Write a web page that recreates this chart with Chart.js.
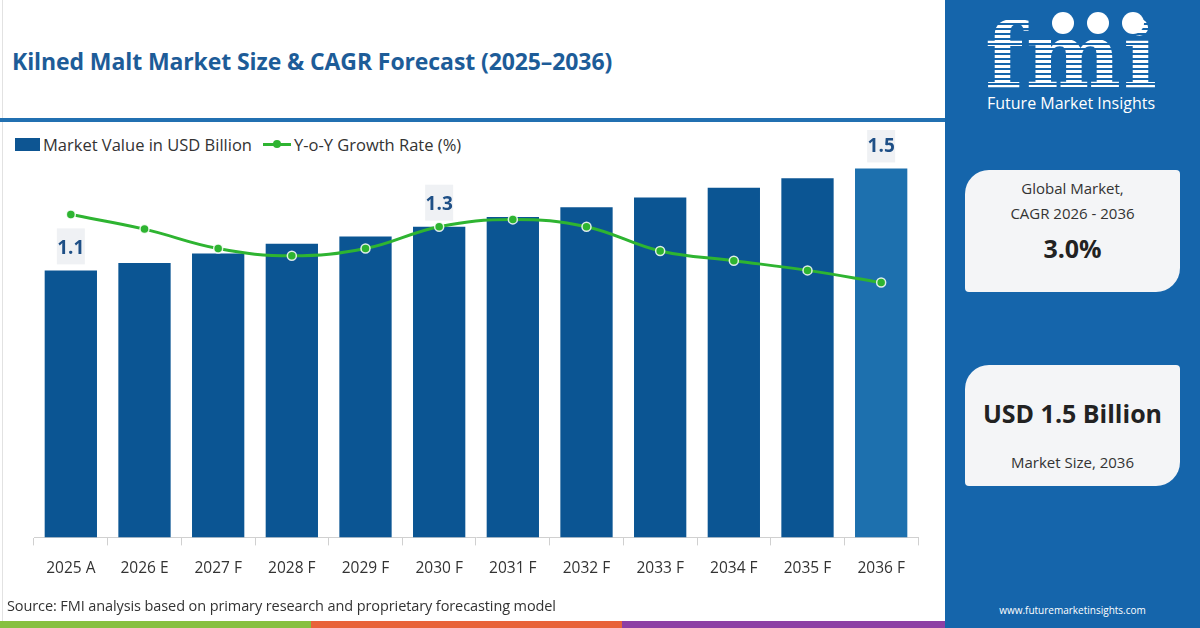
<!DOCTYPE html>
<html>
<head>
<meta charset="utf-8">
<script src="https://cdn.jsdelivr.net/npm/chart.js@4.4.1/dist/chart.umd.min.js"></script>
<style>
  html, body { margin: 0; padding: 0; }
  body { width: 1200px; height: 628px; position: relative; overflow: hidden; background: #fff; font-family: 'Open Sans', sans-serif; }
  .edge { position: absolute; left: 2px; top: 0; width: 1px; height: 621px; background: #e2e2e2; }
  .title { position: absolute; left: 12px; top: 45px; font-size: 23px; font-weight: 700; color: #1d5c98; letter-spacing: -0.1px; }
  .rule { position: absolute; left: 0; top: 118px; width: 946px; height: 4px; background: #2170b1; }
  .legend { position: absolute; left: 15px; top: 134px; font-size: 16.5px; color: #333; display: flex; align-items: center; height: 20px; }
  .legend .box { width: 25px; height: 13px; background: #0d5592; margin-right: 3px; }
  .legend .ln { position: relative; width: 28px; height: 3px; background: #2eb431; margin: 0 3px 0 11px; }
  .legend .ln::after { content: ''; position: absolute; left: 10px; top: -2.5px; width: 8px; height: 8px; border-radius: 50%; background: #2eb431; }
  #wrap { position: absolute; left: 0; top: 130px; width: 945px; height: 474px; }
  .source { position: absolute; left: 7px; top: 596px; font-size: 14.5px; color: #333; letter-spacing: -0.1px; }
  .stripe { position: absolute; top: 621px; height: 7px; }
  .panel { position: absolute; left: 945px; top: 0; width: 255px; height: 628px; background: #1565ab; }
  .logo { position: absolute; left: 40px; top: 5px; font-family: 'DejaVu Serif', serif; font-weight: 700; font-size: 90px; line-height: 100px; letter-spacing: 2px;
          background: repeating-linear-gradient(to bottom, #fff 0 3px, #1565ab 3px 5px); -webkit-background-clip: text; background-clip: text; color: transparent; }
  .dot { position: absolute; width: 22px; height: 22px; border-radius: 50%; background: #fff; }
  .fmi-name { position: absolute; left: 42px; top: 92px; font-size: 16px; color: #fff; }
  .card { position: absolute; left: 20px; width: 215px; background: #f4f5f7; border-radius: 24px 4px 24px 4px; text-align: center; color: #333; }
  .card .sm { font-size: 15px; line-height: 25px; }
  .card .big { font-size: 25px; font-weight: 700; color: #222; }
  .site { position: absolute; left: 0; width: 255px; top: 603px; text-align: center; font-size: 10px; color: #fff; }
</style>
</head>
<body>
<div class="edge"></div>
<div class="title">Kilned Malt Market Size &amp; CAGR Forecast (2025–2036)</div>
<div class="rule"></div>
<div class="legend"><div class="box"></div>Market Value in USD Billion<div class="ln"></div>Y-o-Y Growth Rate (%)</div>
<div id="wrap"><canvas id="chart"></canvas></div>
<div class="source">Source: FMI analysis based on primary research and proprietary forecasting model</div>
<div class="stripe" style="left:0;width:311px;background:#87c040"></div>
<div class="stripe" style="left:311px;width:311px;background:#e8633a"></div>
<div class="stripe" style="left:622px;width:324px;background:#8d3fa4"></div>

<div class="panel">
  <div class="logo">fmi</div>
  <div class="dot" style="left:107px;top:12px"></div>
  <div class="dot" style="left:142px;top:12px"></div>
  <div class="dot" style="left:177px;top:12px"></div>
  <div class="fmi-name">Future Market Insights</div>
  <div class="card" style="top:170px;height:122px">
    <div class="sm" style="padding-top:6px">Global Market,</div>
    <div class="sm">CAGR 2026 - 2036</div>
    <div class="big" style="margin-top:5px">3.0%</div>
  </div>
  <div class="card" style="top:365px;height:121px">
    <div class="big" style="padding-top:31px">USD 1.5 Billion</div>
    <div class="sm" style="margin-top:20px">Market Size, 2036</div>
  </div>
  <div class="site">www.futuremarketinsights.com</div>
</div>

<script>
const years = ['2025 A', '2026 E', '2027 F', '2028 F', '2029 F', '2030 F', '2031 F', '2032 F', '2033 F', '2034 F', '2035 F', '2036 F'];
const marketValue = [1.10, 1.13, 1.17, 1.21, 1.24, 1.28, 1.32, 1.36, 1.40, 1.44, 1.48, 1.52];
const growthRate = [3.33, 3.27, 3.19, 3.16, 3.19, 3.28, 3.31, 3.28, 3.18, 3.14, 3.10, 3.05];
const labelled = [0, 5, 11];
const labelText = ['1.1', '', '', '', '', '1.3', '', '', '', '', '', '1.5'];

const barColors = years.map((y, i) => i === years.length - 1 ? '#1d70ae' : '#0b5593');

// value boxes over chosen bars
const valueBoxes = {
    id: 'valueBoxes',
    afterDatasetsDraw(chart) {
        const { ctx } = chart;
        const meta = chart.getDatasetMeta(1);
        ctx.save();
        labelled.forEach(i => {
            const bar = meta.data[i];
            const w = 28, h = 36;
            const bottom = bar.y - 6;
            ctx.fillStyle = '#eff1f4';
            ctx.fillRect(bar.x - w / 2, bottom - h, w, h);
            ctx.fillStyle = '#1e4f86';
            ctx.font = 'bold 19px "Open Sans"';
            ctx.textAlign = 'center';
            ctx.textBaseline = 'middle';
            ctx.fillText(labelText[i], bar.x, bottom - h / 2 + 2);
        });
        ctx.restore();
    }
};

new Chart(document.getElementById('chart'), {
    type: 'bar',
    data: {
        labels: years,
        datasets: [{
            type: 'line',
            label: 'Y-o-Y Growth Rate (%)',
            data: growthRate,
            yAxisID: 'y1',
            borderColor: '#2eb431',
            borderWidth: 3,
            tension: 0.4,
            pointRadius: 4.5,
            pointBackgroundColor: '#2eb431',
            pointBorderColor: 'rgba(255,255,255,0.85)',
            pointBorderWidth: 1.5,
            order: 1
        }, {
            label: 'Market Value in USD Billion',
            data: marketValue,
            yAxisID: 'y',
            backgroundColor: barColors,
            categoryPercentage: 1,
            barPercentage: 0.71,
            order: 2
        }]
    },
    options: {
        responsive: true,
        maintainAspectRatio: false,
        animation: false,
        layout: { padding: { left: 34, right: 27, top: 19, bottom: 12 } },
        plugins: {
            legend: { display: false },
            tooltip: { enabled: false }
        },
        scales: {
            x: {
                grid: { drawOnChartArea: false, color: '#d0d0d0', tickLength: 8 },
                border: { color: '#d0d0d0' },
                ticks: { color: '#333', font: { size: 15.5, family: 'Open Sans' }, padding: 14 }
            },
            y: { display: false, min: 0, max: 1.6 },
            y1: { display: false, min: 2.0, max: 3.6 }
        }
    },
    plugins: [valueBoxes]
});
</script>
</body>
</html>
